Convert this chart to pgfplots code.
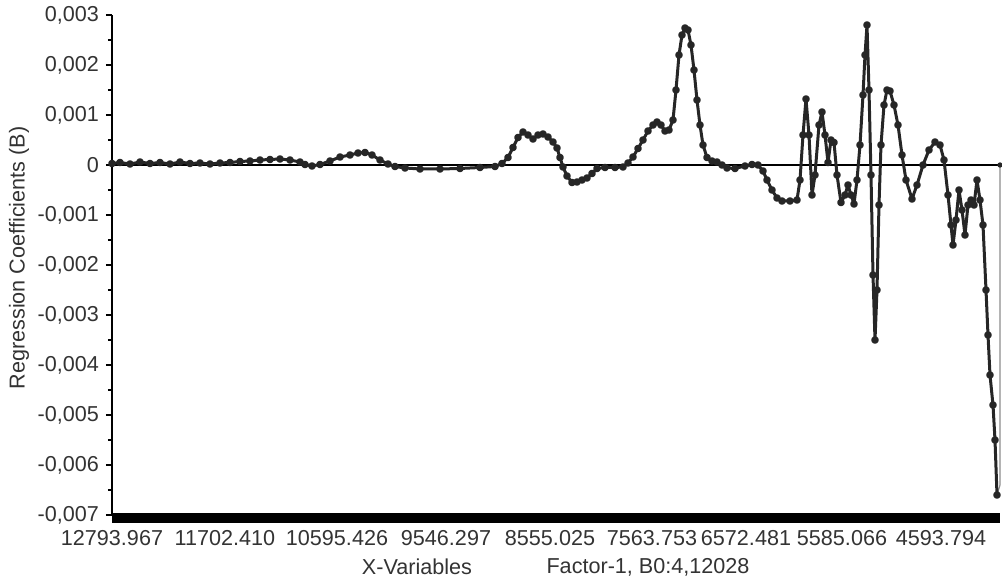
\documentclass[border=0pt]{standalone}
\usepackage{pgfplots}
\pgfplotsset{compat=1.18}
\usepackage{pgfplotstable}
\usepackage{fontspec}
\setmainfont{Liberation Sans}

% Regression coefficients, one row per x-variable position
\pgfplotstableread{
x y
112 0.00003
120 0.00005
130 0.00002
140 0.00006
150 0.00003
160 0.00005
170 0.00002
180 0.00006
190 0.00003
200 0.00004
210 0.00002
220 0.00004
230 0.00005
240 0.00007
250 0.00008
260 0.00010
270 0.00011
280 0.00012
290 0.00010
300 0.00006
305 0.00001
312 -0.00002
320 0.00001
330 0.00008
340 0.00016
350 0.00020
358 0.00024
365 0.00025
372 0.00020
380 0.00010
388 0.00002
395 -0.00003
405 -0.00006
420 -0.00008
440 -0.00008
460 -0.00007
480 -0.00005
495 -0.00003
502 0.00003
508 0.00015
513 0.00035
518 0.00055
523 0.00066
528 0.00060
533 0.00052
538 0.00060
543 0.00062
548 0.00056
553 0.00046
557 0.00034
560 0.00015
563 -0.00004
567 -0.00022
572 -0.00035
577 -0.00034
582 -0.00030
587 -0.00026
592 -0.00017
597 -0.00007
605 -0.00005
615 -0.00005
623 -0.00004
628 0.00004
633 0.00016
638 0.00033
643 0.00050
648 0.00068
653 0.00080
657 0.00086
661 0.00080
665 0.00068
669 0.00070
673 0.00090
676 0.00150
679 0.00220
682 0.00260
685 0.00274
688 0.00270
691 0.00240
694 0.00190
697 0.00130
700 0.00080
703 0.00040
707 0.00015
712 0.00008
717 0.00006
722 0.00000
727 -0.00006
735 -0.00007
745 -0.00002
752 0.00001
758 0.00000
763 -0.00012
767 -0.00030
772 -0.00050
777 -0.00066
782 -0.00072
790 -0.00072
797 -0.00070
800 -0.00030
803 0.00060
806 0.00132
809 0.00060
812 -0.00060
815 -0.00020
819 0.00080
822 0.00106
825 0.00060
828 0.00005
831 0.00050
834 0.00045
837 -0.00020
841 -0.00075
845 -0.00060
848 -0.00040
851 -0.00060
854 -0.00078
857 -0.00030
860 0.00040
863 0.00140
865 0.00220
867 0.00280
869 0.00150
871 -0.00020
873 -0.00220
875 -0.00350
877 -0.00250
879 -0.00080
881 0.00040
884 0.00120
887 0.00150
890 0.00148
894 0.00120
898 0.00080
902 0.00020
906 -0.00030
912 -0.00068
917 -0.00040
923 0.00000
929 0.00030
935 0.00046
940 0.00040
944 0.00010
948 -0.00060
951 -0.00120
953 -0.00160
956 -0.00110
959 -0.00050
962 -0.00090
965 -0.00140
968 -0.00080
971 -0.00070
974 -0.00080
977 -0.00030
980 -0.00070
983 -0.00120
986 -0.00250
988 -0.00340
990 -0.00420
993 -0.00480
995 -0.00550
997 -0.00660
}\coef

\begin{document}
\begin{tikzpicture}
\begin{axis}[
  name=ax, anchor=south west, at={(0,0)},
  width=444pt, height=250pt, scale only axis,
  xmin=112, xmax=1000, ymin=-0.007, ymax=0.003,
  axis x line*=bottom, axis y line*=left,
  x axis line style={draw=none},
  y axis line style={line width=1.3pt},
  clip=false,
  tick align=outside,
  ytick={-0.007,-0.006,-0.005,-0.004,-0.003,-0.002,-0.001,0,0.001,0.002,0.003},
  yticklabels={{-0,007},{-0,006},{-0,005},{-0,004},{-0,003},{-0,002},{-0,001},{0},{0,001},{0,002},{0,003}},
  minor y tick num=1,
  y tick style={black, line width=0.9pt},
  major tick length=3pt, minor tick length=2pt,
  scaled y ticks=false,
  xtick={112,225,337,446,550,652,746,842,941},
  xticklabels={12793.967,11702.410,10595.426,9546.297,8555.025,7563.753,6572.481,5585.066,4593.794},
  x tick style={draw=none},
  x tick label style={yshift=-1pt},
  tick label style={font=\fontsize{10.8}{12}\selectfont, text=black!80},
]
% zero reference line
\addplot[black, line width=0.6pt] coordinates {(112,0) (1000,0)};
% last variable returns to zero
\addplot[black!45, line width=0.6pt] coordinates {(997,-0.0066) (1000,-0.0064) (1000,0)};
\addplot[black!85, only marks, mark=*, mark size=1.1pt] coordinates {(1000,0)};
% coefficient curve
\addplot[black!85, line width=1.5pt, line join=round,
  mark=*, mark size=1.15pt, mark options={black!85}] table[x=x,y=y] {\coef};
\end{axis}
% dense variable ticks merge into a solid band below the axis
\fill[black] ([yshift=0.8pt]ax.south west) rectangle ([yshift=-4pt]ax.south east);
\node[rotate=90, font=\fontsize{10.8}{12}\selectfont, text=black!80]
  at ([shift={(-46.5pt,128.5pt)}]ax.south west) {Regression Coefficients (B)};
\node[font=\fontsize{10.8}{12}\selectfont, text=black!80]
  at ([shift={(152.5pt,-26pt)}]ax.south west) {X-Variables};
\node[font=\fontsize{10.8}{12}\selectfont, text=black!80]
  at ([shift={(268pt,-26pt)}]ax.south west) {Factor-1, B0:4,12028};
\pgfresetboundingbox
\path[use as bounding box] ([shift={(-56pt,-34pt)}]ax.south west) rectangle ([shift={(445pt,257.5pt)}]ax.south west);
\end{tikzpicture}
\end{document}
